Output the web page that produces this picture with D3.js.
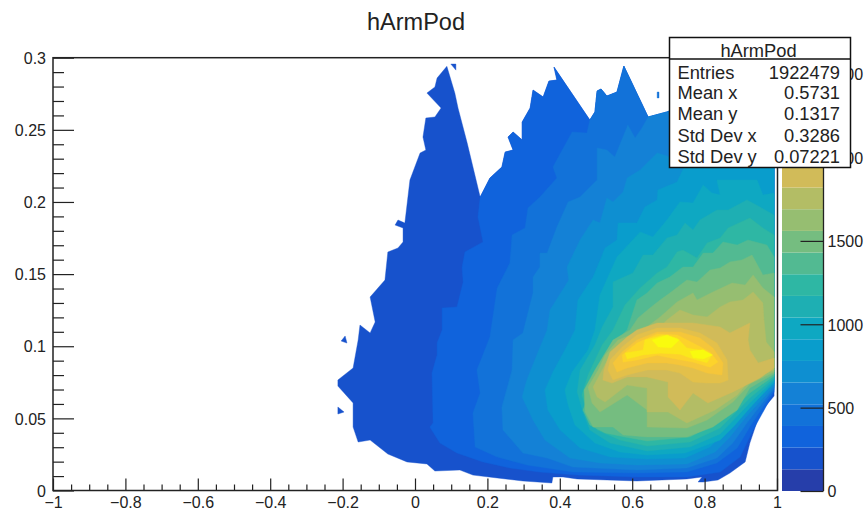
<!DOCTYPE html>
<html>
<head>
<meta charset="utf-8">
<script src="https://cdn.jsdelivr.net/npm/d3@7"></script>
<style>
html,body{margin:0;padding:0;background:#fff}
svg{display:block}
text{font-family:"Liberation Sans",Arial,sans-serif;fill:#222}
</style>
</head>
<body>
<svg id="chart" width="865" height="514"></svg>
<script>
const chartTitle = "hArmPod";
const statLabels = ["Entries","Mean x","Mean y","Std Dev x","Std Dev y"];
const statValues = ["1922479","0.5731","0.1317","0.3286","0.07221"];
const xMajorTicks = [-1,-0.8,-0.6,-0.4,-0.2,0,0.2,0.4,0.6,0.8,1];
const yMajorTicks = [0,0.05,0.1,0.15,0.2,0.25,0.3];
const zMajorTicks = [0,500,1000,1500,2000,2500];
const zMax = 2600;
const contourColors = ["#263eaa","#1752cc","#1063dc","#1272d9","#1481d6","#0e8fd1","#099dcc","#0ea8c2","#1eafb3","#2eb7a4","#52ba92","#75bd80","#96be71","#b3bd65","#d1bb59","#e3c04a","#f5c63a","#fdd32b","#fbe71c","#f9fb0e"];

// Contour outlines in axis units [x, y]
const ridgeA = [[0.180,0.2034],[0.207,0.2166],[0.240,0.2242],[0.249,0.2346],[0.271,0.2360],[0.257,0.2450],[0.271,0.2485],[0.296,0.2430],[0.296,0.2554],[0.318,0.2651],[0.326,0.2776],[0.354,0.2728],[0.370,0.2838],[0.392,0.2845],[0.384,0.2935]];
const ridgeB = [[0.483,0.2568],[0.497,0.2624],[0.503,0.2769],[0.514,0.2783],[0.530,0.2734],[0.558,0.2762],[0.577,0.2942]];
const ridgeC = [[0.644,0.2589],[0.696,0.2624],[0.787,0.2707],[0.992,0.2707]];
const firstPeak = [[0.088,0.294],[0.110,0.2755],[0.119,0.265],[0.144,0.241]];
const outerLow = [[0.992,0.0655],[0.953,0.0537],[0.925,0.0329],[0.912,0.0198],[0.870,0.0121],[0.837,0.0073],[0.796,0.0059],[0.782,0.0059],[0.793,0.0094],[0.751,0.0080],[0.613,0.0066],[0.448,0.0080],[0.409,0.0094],[0.381,0.0094],[0.378,0.0052],[0.298,0.0066],[0.227,0.0087],[0.160,0.0107],[0.124,0.0142],[0.055,0.0135],[0.033,0.0184],[-0.022,0.0198],[-0.075,0.0253],[-0.124,0.0350],[-0.157,0.0336],[-0.171,0.0440],[-0.171,0.0607],[-0.213,0.0724],[-0.213,0.0766],[-0.171,0.0849],[-0.157,0.1043],[-0.152,0.1147],[-0.124,0.1092],[-0.110,0.1168],[-0.124,0.1341],[-0.083,0.1459],[-0.075,0.1653],[-0.047,0.1681],[-0.033,0.1723],[-0.033,0.1820],[-0.055,0.1840],[-0.047,0.1875],[-0.028,0.1854],[-0.014,0.2152],[0.014,0.2339],[0.030,0.2360],[0.022,0.2450],[0.030,0.2582],[0.055,0.2589],[0.072,0.2651],[0.033,0.2755],[0.055,0.2797],[0.061,0.2859]];
const island1a = [[-0.213,0.0579],[-0.196,0.0544],[-0.213,0.0530]];
const island1b = [[-0.193,0.1071],[-0.188,0.1022],[-0.204,0.1036]];
const island1c = [[0.099,0.2956],[0.113,0.2956],[0.113,0.2914]];
const island3 = [[0.669,0.2762],[0.674,0.2762],[0.674,0.2721],[0.669,0.2721]];
const low2 = [[0.992,0.0683],[0.934,0.0419],[0.898,0.0232],[0.843,0.0128],[0.751,0.0094],[0.613,0.0094],[0.448,0.0107],[0.345,0.0128],[0.262,0.0156],[0.188,0.0198],[0.116,0.0260],[0.069,0.0329],[0.041,0.0440],[0.050,0.0468],[0.047,0.0814],[0.061,0.0939],[0.061,0.1022],[0.075,0.1113],[0.075,0.1265],[0.116,0.1272],[0.133,0.1445],[0.130,0.1549],[0.138,0.1653],[0.188,0.1723],[0.174,0.1896]];
const low3 = [[0.992,0.0697],[0.925,0.0440],[0.890,0.0295],[0.834,0.0191],[0.751,0.0128],[0.613,0.0121],[0.436,0.0128],[0.309,0.0177],[0.227,0.0232],[0.166,0.0302],[0.160,0.0537],[0.180,0.0676],[0.171,0.0835],[0.207,0.1064],[0.227,0.1404],[0.262,0.1577],[0.268,0.1771],[0.304,0.1820],[0.312,0.1958],[0.345,0.2034],[0.392,0.2166],[0.381,0.2242],[0.434,0.2485],[0.475,0.2478]];
const low4 = [[0.992,0.0710],[0.917,0.0468],[0.878,0.0329],[0.834,0.0225],[0.751,0.0156],[0.613,0.0142],[0.436,0.0163],[0.365,0.0225],[0.298,0.0260],[0.243,0.0419],[0.240,0.0579],[0.268,0.0835],[0.271,0.1043],[0.298,0.1092],[0.326,0.1369],[0.326,0.1480],[0.345,0.1549],[0.345,0.1646],[0.365,0.1646],[0.392,0.1826],[0.423,0.2000],[0.456,0.2034],[0.503,0.2152],[0.503,0.2374],[0.530,0.2360],[0.552,0.2312],[0.588,0.2533],[0.608,0.2443],[0.627,0.2513]];
const level5 = [[0.992,0.2499],[0.732,0.2291],[0.669,0.2339],[0.622,0.2222],[0.586,0.2166],[0.575,0.2069],[0.547,0.2000],[0.530,0.2028],[0.511,0.1854],[0.492,0.1875],[0.456,0.1736],[0.420,0.1549],[0.425,0.1459],[0.373,0.1251],[0.365,0.1113],[0.331,0.0905],[0.309,0.0766],[0.296,0.0648],[0.326,0.0489],[0.359,0.0350],[0.428,0.0225],[0.511,0.0191],[0.613,0.0177],[0.751,0.0184],[0.829,0.0267],[0.870,0.0371],[0.912,0.0503],[0.992,0.0724]];
const level6 = [[0.992,0.2360],[0.746,0.2256],[0.724,0.2138],[0.671,0.2083],[0.669,0.2014],[0.635,0.1965],[0.613,0.1854],[0.561,0.1854],[0.558,0.1736],[0.525,0.1681],[0.492,0.1480],[0.450,0.1320],[0.442,0.1113],[0.414,0.0974],[0.381,0.0821],[0.359,0.0697],[0.367,0.0558],[0.401,0.0419],[0.456,0.0295],[0.539,0.0232],[0.641,0.0218],[0.746,0.0225],[0.815,0.0302],[0.862,0.0419],[0.903,0.0544],[0.992,0.0738]];
const level7 = [[0.992,0.2062],[0.961,0.2048],[0.945,0.2152],[0.834,0.2152],[0.843,0.2048],[0.820,0.2062],[0.796,0.2118],[0.768,0.1993],[0.732,0.2000],[0.696,0.1875],[0.657,0.1757],[0.622,0.1792],[0.558,0.1619],[0.511,0.1355],[0.497,0.1113],[0.478,0.0974],[0.434,0.0821],[0.414,0.0697],[0.423,0.0593],[0.442,0.0454],[0.497,0.0329],[0.566,0.0267],[0.641,0.0246],[0.746,0.0260],[0.843,0.0350],[0.884,0.0454],[0.925,0.0572],[0.992,0.0752]];
const level8 = [[0.992,0.1910],[0.953,0.1965],[0.917,0.2014],[0.865,0.1944],[0.834,0.1944],[0.787,0.1875],[0.768,0.1806],[0.746,0.1854],[0.724,0.1771],[0.696,0.1750],[0.657,0.1632],[0.630,0.1632],[0.602,0.1508],[0.547,0.1445],[0.547,0.1272],[0.517,0.1133],[0.497,0.1009],[0.456,0.0835],[0.448,0.0683],[0.464,0.0544],[0.483,0.0419],[0.539,0.0329],[0.641,0.0274],[0.760,0.0302],[0.843,0.0392],[0.925,0.0607],[0.992,0.0766]];
const level9 = [[0.992,0.1771],[0.961,0.1820],[0.925,0.1889],[0.865,0.1820],[0.843,0.1750],[0.807,0.1716],[0.779,0.1612],[0.740,0.1667],[0.724,0.1653],[0.696,0.1549],[0.669,0.1508],[0.622,0.1404],[0.580,0.1286],[0.547,0.1113],[0.517,0.1009],[0.478,0.0801],[0.461,0.0662],[0.475,0.0544],[0.503,0.0419],[0.566,0.0350],[0.641,0.0308],[0.760,0.0336],[0.843,0.0433],[0.925,0.0641],[0.992,0.0780]];
const level10 = [[0.992,0.1619],[0.972,0.1702],[0.920,0.1736],[0.890,0.1702],[0.851,0.1723],[0.823,0.1646],[0.796,0.1646],[0.768,0.1549],[0.740,0.1549],[0.704,0.1480],[0.669,0.1438],[0.641,0.1369],[0.613,0.1320],[0.586,0.1113],[0.544,0.1009],[0.503,0.0835],[0.483,0.0683],[0.464,0.0558],[0.483,0.0454],[0.525,0.0399],[0.580,0.0371],[0.641,0.0343],[0.760,0.0371],[0.843,0.0482],[0.925,0.0676],[0.992,0.0794]];
const level11 = [[0.992,0.1508],[0.961,0.1494],[0.931,0.1632],[0.903,0.1598],[0.870,0.1584],[0.843,0.1542],[0.815,0.1528],[0.779,0.1445],[0.751,0.1459],[0.704,0.1369],[0.677,0.1320],[0.649,0.1265],[0.616,0.1196],[0.594,0.1113],[0.547,0.1043],[0.497,0.0835],[0.467,0.0697],[0.470,0.0544],[0.492,0.0440],[0.547,0.0440],[0.575,0.0385],[0.641,0.0371],[0.751,0.0371],[0.823,0.0440],[0.890,0.0558],[0.925,0.0710],[0.992,0.0808]];
const level12 = [[0.992,0.1341],[0.961,0.1404],[0.934,0.1494],[0.912,0.1424],[0.876,0.1438],[0.823,0.1376],[0.779,0.1320],[0.768,0.1369],[0.724,0.1307],[0.677,0.1203],[0.630,0.1113],[0.561,0.1043],[0.525,0.0939],[0.506,0.0835],[0.478,0.0717],[0.489,0.0607],[0.511,0.0544],[0.586,0.0662],[0.641,0.0558],[0.641,0.0440],[0.751,0.0433],[0.807,0.0489],[0.878,0.0613],[0.925,0.0738],[0.992,0.0821]];
const level13 = [[0.961,0.1300],[0.934,0.1376],[0.906,0.1320],[0.870,0.1307],[0.843,0.1272],[0.807,0.1203],[0.768,0.1216],[0.732,0.1251],[0.696,0.1182],[0.669,0.1113],[0.622,0.1078],[0.575,0.1029],[0.539,0.0939],[0.517,0.0835],[0.492,0.0717],[0.503,0.0648],[0.525,0.0613],[0.586,0.0731],[0.641,0.0710],[0.641,0.0544],[0.699,0.0544],[0.751,0.0468],[0.829,0.0558],[0.890,0.0662],[0.925,0.0766],[0.992,0.0835],[0.992,0.0960],[0.970,0.1029],[0.964,0.1182]];
const level14 = [[0.522,0.0835],[0.539,0.0960],[0.586,0.1064],[0.613,0.1113],[0.669,0.1161],[0.768,0.1161],[0.843,0.1133],[0.870,0.1092],[0.925,0.1161],[0.920,0.1043],[0.925,0.0974],[0.948,0.0884],[0.992,0.0918],[0.992,0.0849],[0.953,0.0780],[0.878,0.0683],[0.809,0.0607],[0.768,0.0676],[0.732,0.0558],[0.699,0.0648],[0.699,0.0752],[0.641,0.0787],[0.586,0.0787],[0.544,0.0745],[0.519,0.0766]];
const level15 = [[0.533,0.0835],[0.539,0.0905],[0.572,0.0995],[0.613,0.1078],[0.669,0.1126],[0.732,0.1126],[0.787,0.1092],[0.834,0.1022],[0.862,0.0905],[0.865,0.0766],[0.843,0.0745],[0.807,0.0745],[0.768,0.0752],[0.732,0.0814],[0.696,0.0835],[0.641,0.0835],[0.586,0.0801],[0.547,0.0766]];
const level16 = [[0.547,0.0884],[0.572,0.0960],[0.613,0.1043],[0.669,0.1099],[0.732,0.1099],[0.787,0.1057],[0.823,0.0988],[0.851,0.0884],[0.848,0.0801],[0.807,0.0814],[0.768,0.0849],[0.732,0.0870],[0.696,0.0884],[0.641,0.0884],[0.586,0.0849],[0.558,0.0821]];
const level17 = [[0.572,0.0939],[0.613,0.1022],[0.669,0.1085],[0.724,0.1078],[0.768,0.1022],[0.815,0.0960],[0.837,0.0891],[0.815,0.0855],[0.768,0.0890],[0.724,0.0910],[0.669,0.0938],[0.613,0.0905],[0.575,0.0890]];
const level18 = [[0.580,0.0953],[0.630,0.0974],[0.635,0.1043],[0.685,0.1078],[0.724,0.1057],[0.751,0.0988],[0.787,0.0974],[0.820,0.0939],[0.807,0.0885],[0.768,0.0912],[0.732,0.0945],[0.677,0.0952],[0.630,0.0940],[0.586,0.0912]];
const level19a = [[0.655,0.1043],[0.696,0.1078],[0.730,0.1043],[0.708,0.0990],[0.672,0.0995]];
const level19b = [[0.760,0.0965],[0.796,0.0975],[0.822,0.0939],[0.796,0.0912],[0.768,0.0922]];

const contourLayers = [
  [1,[...firstPeak,...ridgeA,...ridgeB,...ridgeC,...outerLow]],[1,island1a],[1,island1b],[1,island1c],
  [2,[...ridgeA,...ridgeB,...ridgeC,...low2]],
  [3,[...ridgeB,...ridgeC,...low3]],[3,island3],
  [4,[...ridgeC,...low4]],
  [5,level5],[6,level6],[7,level7],[8,level8],[9,level9],[10,level10],[11,level11],[12,level12],[13,level13],
  [14,level14],[15,level15],[16,level16],[17,level17],[18,level18],[19,level19a],[19,level19b]
];

const svg = d3.select("#chart");
const x = d3.scaleLinear().domain([-1,1]).range([53,777]);
const y = d3.scaleLinear().domain([0,0.3]).range([490.5,57.7]);
const z = d3.scaleLinear().domain([0,zMax]).range([491,57.5]);
const line = d3.line().x(d=>x(d[0])).y(d=>y(d[1]));

svg.append("g").selectAll("path").data(contourLayers).join("path")
  .attr("d",d=>line(d[1])+"Z")
  .attr("fill",d=>contourColors[d[0]])
  .attr("stroke",d=>contourColors[d[0]])
  .attr("stroke-width",0.4);

// palette
const bandHeight = zMax/contourColors.length;
svg.append("g").selectAll("rect").data(contourColors).join("rect")
  .attr("x",782).attr("width",41.5)
  .attr("y",(c,i)=>z((i+1)*bandHeight))
  .attr("height",(c,i)=>z(i*bandHeight)-z((i+1)*bandHeight))
  .attr("fill",c=>c);

const ink="#222";
function styleAxis(g,fs){
  g.select(".domain").remove();
  g.selectAll(".tick line").attr("stroke",ink).attr("stroke-width",1.2);
  g.selectAll(".tick text").attr("font-size",fs).style("font-family",'"Liberation Sans",Arial,sans-serif').attr("fill",ink);
}
const fmtX = d=>d===0?"0":(d<0?"\u2212":"")+Math.abs(d);
function minorBetween(ticks,n){
  const out=[];
  for(let i=0;i<ticks.length-1;i++) for(let j=1;j<n;j++) out.push(ticks[i]+(ticks[i+1]-ticks[i])*j/n);
  return out;
}
// x axis
svg.append("g").attr("transform","translate(0,490.5)")
  .call(d3.axisBottom(x).tickValues(minorBetween(xMajorTicks,4)).tickSize(-6).tickFormat(""))
  .call(g=>styleAxis(g,16));
svg.append("g").attr("transform","translate(0,490.5)")
  .call(d3.axisBottom(x).tickValues(xMajorTicks).tickSize(-12).tickPadding(6).tickFormat(fmtX))
  .call(g=>{styleAxis(g,16);g.selectAll(".tick text").attr("y",6.5).attr("dy","11");});
// y axis
svg.append("g").attr("transform","translate(53,0)")
  .call(d3.axisLeft(y).tickValues(minorBetween(yMajorTicks,5)).tickSize(-11).tickFormat(""))
  .call(g=>styleAxis(g,16));
svg.append("g").attr("transform","translate(53,0)")
  .call(d3.axisLeft(y).tickValues(yMajorTicks).tickSize(-21).tickPadding(7).tickFormat(d=>String(+d.toFixed(2))))
  .call(g=>{styleAxis(g,16);g.selectAll(".tick text").attr("dy","0.36em").attr("x",-7);});
// palette axis
svg.append("g").attr("transform","translate(823.5,0)")
  .call(d3.axisRight(z).tickValues(zMajorTicks).tickSize(-23).tickPadding(4).tickFormat(d=>String(d)))
  .call(g=>{styleAxis(g,16);g.selectAll(".tick text").attr("x",4).attr("dy","0.36em");});
svg.append("line").attr("x1",823.5).attr("x2",823.5).attr("y1",57.5).attr("y2",491).attr("stroke",ink).attr("stroke-width",1.3);

// frame
svg.append("rect").attr("x",53).attr("y",57.7).attr("width",724.5).attr("height",432.8)
  .attr("fill","none").attr("stroke",ink).attr("stroke-width",1.5);

// title
svg.append("text").attr("x",416).attr("y",30).attr("text-anchor","middle").attr("font-size",23.5).text(chartTitle);

// stats box
const box = svg.append("g");
box.append("rect").attr("x",669.5).attr("y",37.5).attr("width",181).attr("height",130).attr("fill","#fff").attr("stroke","#111").attr("stroke-width",1.5);
box.append("line").attr("x1",669.5).attr("x2",850.5).attr("y1",59).attr("y2",59).attr("stroke","#111").attr("stroke-width",1.5);
box.append("text").attr("x",758.5).attr("y",57).attr("text-anchor","middle").attr("font-size",18.3).text(chartTitle);
const rowBase = [79,99,120,142,163];
box.selectAll("text.l").data(statLabels).join("text").attr("class","l").attr("x",677.5).attr("y",(d,i)=>rowBase[i]).attr("font-size",18.3).text(d=>d);
box.selectAll("text.v").data(statValues).join("text").attr("class","v").attr("x",840).attr("y",(d,i)=>rowBase[i]).attr("text-anchor","end").attr("font-size",18.3).text(d=>d);
</script>
</body>
</html>
